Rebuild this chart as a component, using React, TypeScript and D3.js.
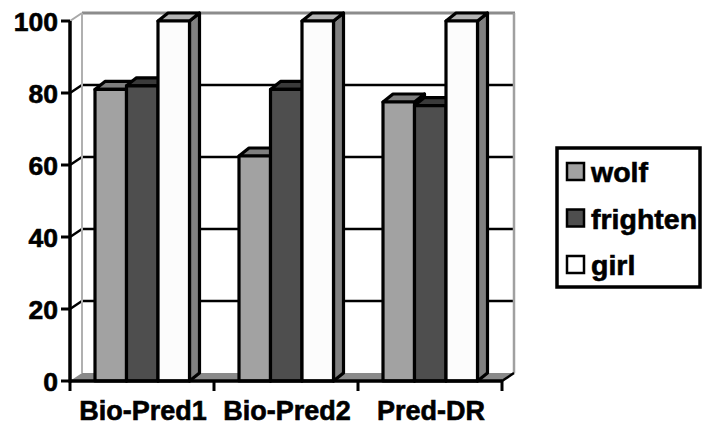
import * as d3 from 'd3';
import React, { useEffect, useRef } from "react";

const categories = ['Bio-Pred1', 'Bio-Pred2', 'Pred-DR'];
const seriesNames = ['wolf', 'frighten', 'girl'];
const wolf = [81, 62.5, 77.5];
const frighten = [82, 81, 76.5];
const girl = [100, 100, 100];
const yTicks = [0, 20, 40, 60, 80, 100];

const frontColor: Record<string, string> = { wolf: '#a2a2a2', frighten: '#4e4e4e', girl: '#fcfcfc' };
const topColor: Record<string, string> = { wolf: '#7e7e7e', frighten: '#3a3a3a', girl: '#b4b4b4' };
const sideColor: Record<string, string> = { wolf: '#7e7e7e', frighten: '#3a3a3a', girl: '#808080' };

const font = '"Liberation Sans", Arial, sans-serif';

const App: React.FC = () => {
    const ref = useRef<SVGSVGElement>(null);

    useEffect(() => {
        if (!ref.current) return;
        const width = 703;
        const height = 426;
        const svg = d3.select(ref.current)
            .attr('width', width)
            .attr('height', height);
        svg.selectAll('*').remove();

        const left = 70, right = 502, bottom = 381, top = 21;
        // wall depth and bar depth (projection offsets)
        const wdx = 12, wdy = -8;
        const bdx = 10, bdy = -8;

        const y = d3.scaleLinear().domain([0, 100]).range([bottom, top]);
        const x = d3.scaleBand<string>().domain(categories).range([left, right]).padding(0);
        const inner = d3.scaleBand<string>().domain(seriesNames).range([25, 25 + 94.5]).padding(0);

        const values: Record<string, number[]> = { wolf, frighten, girl };
        const poly = (pts: [number, number][]) => pts.map(p => p.join(',')).join(' ');

        // floor
        svg.append('polygon')
            .attr('points', poly([[left, bottom], [left + wdx, bottom + wdy], [right + wdx, bottom + wdy], [right, bottom]]))
            .attr('fill', '#8a8a8a');

        // back wall gridlines
        yTicks.filter(t => t > 0 && t < 100).forEach(t => {
            svg.append('line')
                .attr('x1', left + wdx).attr('x2', right + wdx)
                .attr('y1', y(t) + wdy).attr('y2', y(t) + wdy)
                .attr('stroke', '#000').attr('stroke-width', 2.5);
            svg.append('line')
                .attr('x1', left).attr('x2', left + wdx)
                .attr('y1', y(t)).attr('y2', y(t) + wdy)
                .attr('stroke', '#000').attr('stroke-width', 2.5);
        });

        // wall borders
        const g = '#8c8c8c';
        svg.append('line')
            .attr('x1', left + wdx).attr('x2', right + wdx + 1)
            .attr('y1', y(100) + wdy).attr('y2', y(100) + wdy)
            .attr('stroke', g).attr('stroke-width', 3);
        svg.append('line')
            .attr('x1', left).attr('x2', left + wdx)
            .attr('y1', y(100)).attr('y2', y(100) + wdy)
            .attr('stroke', '#a8a8a8').attr('stroke-width', 2);
        svg.append('line')
            .attr('x1', left + wdx).attr('x2', left + wdx)
            .attr('y1', y(100) + wdy).attr('y2', bottom + wdy)
            .attr('stroke', '#b0b0b0').attr('stroke-width', 2);
        svg.append('line')
            .attr('x1', right + wdx).attr('x2', right + wdx)
            .attr('y1', y(100) + wdy).attr('y2', bottom + wdy)
            .attr('stroke', '#a0a0a0').attr('stroke-width', 2.5);
        svg.append('line')
            .attr('x1', right).attr('x2', right + wdx)
            .attr('y1', bottom).attr('y2', bottom + wdy)
            .attr('stroke', '#000').attr('stroke-width', 2.5);

        // bars
        categories.forEach((c, ci) => {
            seriesNames.forEach(s => {
                const bx = (x(c) as number) + (inner(s) as number);
                const bw = inner.bandwidth();
                const yt = y(values[s][ci]);
                const bar = svg.append('g')
                    .attr('stroke', '#000').attr('stroke-width', 3.2).attr('stroke-linejoin', 'round');
                bar.append('polygon')
                    .attr('points', poly([[bx + bw, yt], [bx + bw + bdx, yt + bdy], [bx + bw + bdx, bottom + bdy], [bx + bw, bottom]]))
                    .attr('fill', sideColor[s]);
                bar.append('polygon')
                    .attr('points', poly([[bx, yt], [bx + bdx, yt + bdy], [bx + bw + bdx, yt + bdy], [bx + bw, yt]]))
                    .attr('fill', topColor[s]);
                bar.append('rect')
                    .attr('x', bx).attr('y', yt)
                    .attr('width', bw).attr('height', bottom - yt)
                    .attr('fill', frontColor[s]);
            });
        });

        const label = (sel: d3.Selection<SVGTextElement, unknown, null, undefined>, size: number) =>
            sel.attr('font-family', font).attr('font-weight', 'bold').attr('font-size', size)
                .attr('fill', '#000').attr('stroke', '#000').attr('stroke-width', 0.6);

        // y axis
        svg.append('line')
            .attr('x1', left).attr('x2', left)
            .attr('y1', top).attr('y2', bottom + 1.5)
            .attr('stroke', '#000').attr('stroke-width', 3.5);
        yTicks.forEach(t => {
            svg.append('line')
                .attr('x1', left - 9).attr('x2', left)
                .attr('y1', y(t)).attr('y2', y(t))
                .attr('stroke', '#000').attr('stroke-width', 3);
            label(svg.append('text')
                .attr('x', left - 12).attr('y', y(t) + 1)
                .attr('text-anchor', 'end')
                .attr('dominant-baseline', 'central'), 26.5)
                .text(t);
        });

        // x axis
        svg.append('line')
            .attr('x1', left).attr('x2', right)
            .attr('y1', bottom).attr('y2', bottom)
            .attr('stroke', '#000').attr('stroke-width', 3.5);
        [...categories.map(c => x(c) as number), right].forEach(tx => {
            svg.append('line')
                .attr('x1', tx).attr('x2', tx)
                .attr('y1', bottom).attr('y2', bottom + 10)
                .attr('stroke', '#000').attr('stroke-width', 3);
        });
        categories.forEach(c => {
            label(svg.append('text')
                .attr('x', (x(c) as number) + x.bandwidth() / 2 + 1)
                .attr('y', 419.5)
                .attr('text-anchor', 'middle'), 27)
                .text(c);
        });

        // legend
        const lg = svg.append('g');
        lg.append('rect')
            .attr('x', 557).attr('y', 148).attr('width', 143).attr('height', 139)
            .attr('fill', '#fff').attr('stroke', '#000').attr('stroke-width', 3.5);
        seriesNames.forEach((s, i) => {
            const cy = 172 + i * 46.5;
            lg.append('rect')
                .attr('x', 567).attr('y', cy - 9).attr('width', 17).attr('height', 17)
                .attr('fill', frontColor[s] === '#fcfcfc' ? '#fff' : frontColor[s])
                .attr('stroke', '#000').attr('stroke-width', 2.5);
            label(lg.append('text')
                .attr('x', 591).attr('y', cy + 10), 28.5)
                .text(s);
        });
    }, []);

    return (<svg ref={ref} style={{ position: 'absolute', left: 0, top: 0, display: 'block' }}></svg>);
}

export default App;
